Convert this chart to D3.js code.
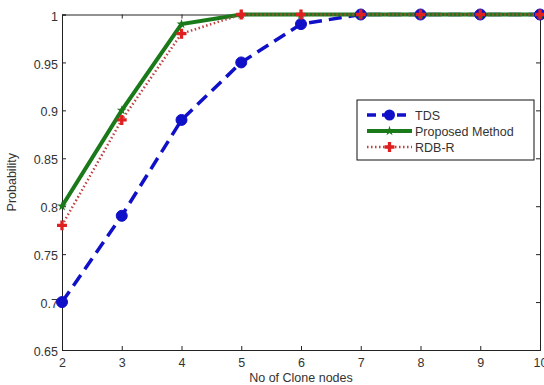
<!DOCTYPE html>
<html><head><meta charset="utf-8">
<script src="https://cdn.jsdelivr.net/npm/d3@7"></script>
<style>body{margin:0;background:#fff}svg{display:block}text{font-family:"Liberation Sans",Arial,sans-serif}</style>
</head><body>
<svg id="c" width="544" height="385"></svg>
<script>
const xValues = [2,3,4,5,6,7,8,9,10];
const tds = [0.70,0.79,0.89,0.95,0.99,1,1,1,1];
const proposed = [0.80,0.90,0.99,1,1,1,1,1,1];
const rdbr = [0.78,0.89,0.98,1,1,1,1,1,1];
const yTicks = [0.65,0.7,0.75,0.8,0.85,0.9,0.95,1];
const yTickLabels = ["0.65","0.7","0.75","0.8","0.85","0.9","0.95","1"];
const seriesNames = ["TDS","Proposed Method","RDB-R"];

const svg = d3.select("#c");
const L=62, R=540, T=14.5, B=350;
const x = d3.scaleLinear().domain([2,10]).range([L,R]);
const y = d3.scaleLinear().domain([0.65,1]).range([B,T]);
const axisColor="#222", txt="#333";

const gx = svg.append("g").attr("transform",`translate(0,${B})`)
  .call(d3.axisBottom(x).tickValues(xValues).tickSize(-4).tickPadding(8).tickFormat(d3.format("d")));
const gy = svg.append("g").attr("transform",`translate(${L},0)`)
  .call(d3.axisLeft(y).tickValues(yTicks).tickSize(-4).tickPadding(4).tickFormat((d,i)=>yTickLabels[i]));
const gt = svg.append("g").attr("transform",`translate(0,${T})`)
  .call(d3.axisTop(x).tickValues(xValues).tickSize(-4).tickFormat(""));
const gr = svg.append("g").attr("transform",`translate(${R},0)`)
  .call(d3.axisRight(y).tickValues(yTicks).tickSize(-4).tickFormat(""));
[gx,gy,gt,gr].forEach(g=>{
  g.select(".domain").attr("stroke",axisColor);
  g.selectAll(".tick line").attr("stroke",axisColor);
  g.selectAll(".tick text").attr("fill",txt).attr("font-size",12.5).attr("font-family",'"Liberation Sans",Arial,sans-serif');
});
gy.selectAll(".tick text").attr("dy","0.45em");

svg.append("text").attr("x",(L+R)/2).attr("y",382).attr("text-anchor","middle")
  .attr("font-size",12.5).attr("fill",txt).text("No of Clone nodes");
svg.append("text").attr("transform",`translate(16,${(T+B)/2}) rotate(-90)`).attr("text-anchor","middle")
  .attr("font-size",12.5).attr("fill",txt).text("Probability");

const line = d3.line().x((d,i)=>x(xValues[i])).y(d=>y(d));
const blue="#1010c8", green="#1a7a1a", red="#e02020";

svg.append("path").datum(tds).attr("d",line).attr("fill","none").attr("stroke",blue)
  .attr("stroke-width",3.5).attr("stroke-dasharray","13,7");
svg.append("path").datum(proposed).attr("d",line).attr("fill","none").attr("stroke",green)
  .attr("stroke-width",4);
svg.append("path").datum(rdbr).attr("d",line).attr("fill","none").attr("stroke","#c04040")
  .attr("stroke-width",2.5).attr("stroke-dasharray","1.5,2.5");

svg.append("g").selectAll("circle").data(tds).join("circle")
  .attr("cx",(d,i)=>x(xValues[i])).attr("cy",d=>y(d)).attr("r",5.5)
  .attr("fill",blue).attr("stroke",blue).attr("stroke-width",1);
const star = d3.symbol().type(d3.symbolStar).size(30);
svg.append("g").selectAll("path").data(proposed).join("path")
  .attr("transform",(d,i)=>`translate(${x(xValues[i])},${y(d)})`).attr("d",star).attr("fill",green);
const plus = d3.symbol().type(d3.symbolCross).size(55);
svg.append("g").selectAll("path").data(rdbr).join("path")
  .attr("transform",(d,i)=>`translate(${x(xValues[i])},${y(d)})`).attr("d",plus).attr("fill",red);

const lg = svg.append("g");
lg.append("rect").attr("x",357).attr("y",100).attr("width",177).attr("height",60)
  .attr("fill","#fff").attr("stroke","#111").attr("stroke-width",1);
const rows=[115,131,147];
const lx1=367, lx2=412, lxm=(lx1+lx2)/2;
lg.append("line").attr("x1",lx1).attr("x2",lx2).attr("y1",rows[0]).attr("y2",rows[0])
  .attr("stroke",blue).attr("stroke-width",3.5).attr("stroke-dasharray","9,6");
lg.append("circle").attr("cx",lxm).attr("cy",rows[0]).attr("r",5.5).attr("fill",blue);
lg.append("line").attr("x1",lx1).attr("x2",lx2).attr("y1",rows[1]).attr("y2",rows[1])
  .attr("stroke",green).attr("stroke-width",4);
lg.append("path").attr("transform",`translate(${lxm},${rows[1]})`).attr("d",star).attr("fill",green);
lg.append("line").attr("x1",lx1).attr("x2",lx2).attr("y1",rows[2]).attr("y2",rows[2])
  .attr("stroke","#c04040").attr("stroke-width",2.5).attr("stroke-dasharray","1.5,2.5");
lg.append("path").attr("transform",`translate(${lxm},${rows[2]})`).attr("d",plus).attr("fill",red);
seriesNames.forEach((n,i)=>lg.append("text").attr("x",415).attr("y",rows[i]).attr("dy","0.36em")
  .attr("font-size",12.5).attr("fill",txt).text(n));
</script>
</body></html>
